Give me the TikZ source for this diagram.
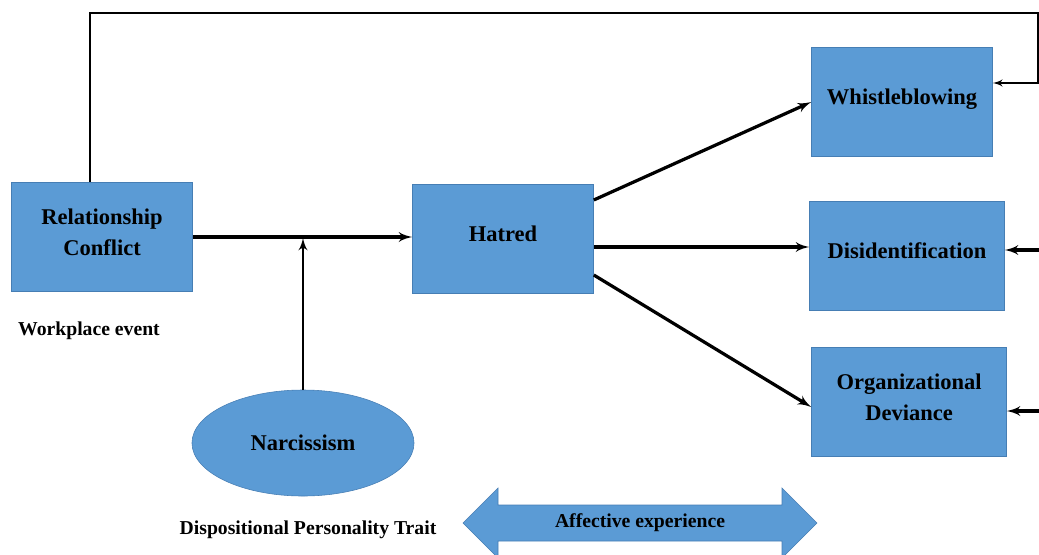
\documentclass[tikz,border=0pt]{standalone}
\usepackage{fontspec}
\setmainfont{Liberation Serif}
\usetikzlibrary{arrows, shapes.geometric, positioning}

\begin{document}
\begin{tikzpicture}[>=latex', x=0.025cm, y=-0.025cm]

\definecolor{boxblue}{RGB}{91, 155, 213}
\definecolor{boxedge}{RGB}{70, 126, 180}

\useasboundingbox (0,0) rectangle (1039,554);

\tikzset{
    factor/.style={
        draw=boxedge, fill=boxblue, thin,
        rectangle, inner sep=2pt, minimum width=4.525cm, minimum height=2.725cm,
        text depth=0.25cm,
        align=center, font=\bfseries\fontsize{16}{22}\selectfont
    },
    trait/.style={
        draw=boxedge, fill=boxblue, thin,
        ellipse, inner sep=0pt, minimum width=5.55cm, minimum height=2.65cm,
        font=\bfseries\fontsize{16}{22}\selectfont
    },
    tag/.style={
        font=\bfseries\fontsize{14}{17}\selectfont
    },
    link/.style={
        draw=black, line width=2.3pt, ->
    },
    feedback/.style={
        draw=black, line width=1.4pt, ->
    },
    band/.style={
        draw=boxedge, fill=boxblue, thin
    }
}

% --- LEFT SIDE: EVENT AND TRAIT ---

\node[factor] (RC) at (102, 237) {Relationship\\Conflict};
\node[tag] (WE) at (89, 331) {Workplace event};

\node[trait] (Nar) at (303, 443) {Narcissism};
\node[tag] (DPT) at (308, 530) {Dispositional Personality Trait};

% --- CENTRE: EMOTION ---

\node[factor] (Hat) at (503, 239) {Hatred};
\coordinate (join) at (303, 238);

\draw[link] (RC.east) -- (RC.east -| Hat.west);
\draw[link, line width=2pt] (Nar) -- (join);

% --- RIGHT SIDE: OUTCOMES ---

\node[factor] (Wb) at (902, 102) {Whistleblowing};
\node[factor, minimum width=4.875cm] (Dis) at (907, 256) {Disidentification};
\node[factor, minimum width=4.875cm] (OD) at (909, 402) {Organizational\\Deviance};

\draw[link] ([yshift=0.975cm]Hat.east) -- (Wb.west);
\draw[link] ([yshift=-0.2cm]Hat.east) -- ([yshift=-0.2cm]Hat.east -| Dis.west);
\draw[link] ([yshift=-0.9cm]Hat.east) -- ([yshift=-0.125cm]OD.west);

% Feedback and incoming lines on the right edge
\coordinate (fbtop) at (1038, 13);
\coordinate (dsrc) at (1045, 250);
\coordinate (odsrc) at (1045, 411);

\draw[feedback] ([xshift=-0.3cm]RC.north) |- (fbtop) |- ([yshift=0.475cm]Wb.east);
\draw[link] (dsrc) -- (Dis.east |- dsrc);
\draw[link] (odsrc) -- (OD.east |- odsrc);

% Affective experience band (double-headed block arrow)
\draw[band] (463, 523) -- (498, 488) -- (498, 505) -- (782, 505) -- (782, 488)
    -- (817, 523) -- (782, 558) -- (782, 541) -- (498, 541) -- (498, 558) -- cycle;
\node[tag] (AE) at (640, 523) {Affective experience};

\end{tikzpicture}
\end{document}
